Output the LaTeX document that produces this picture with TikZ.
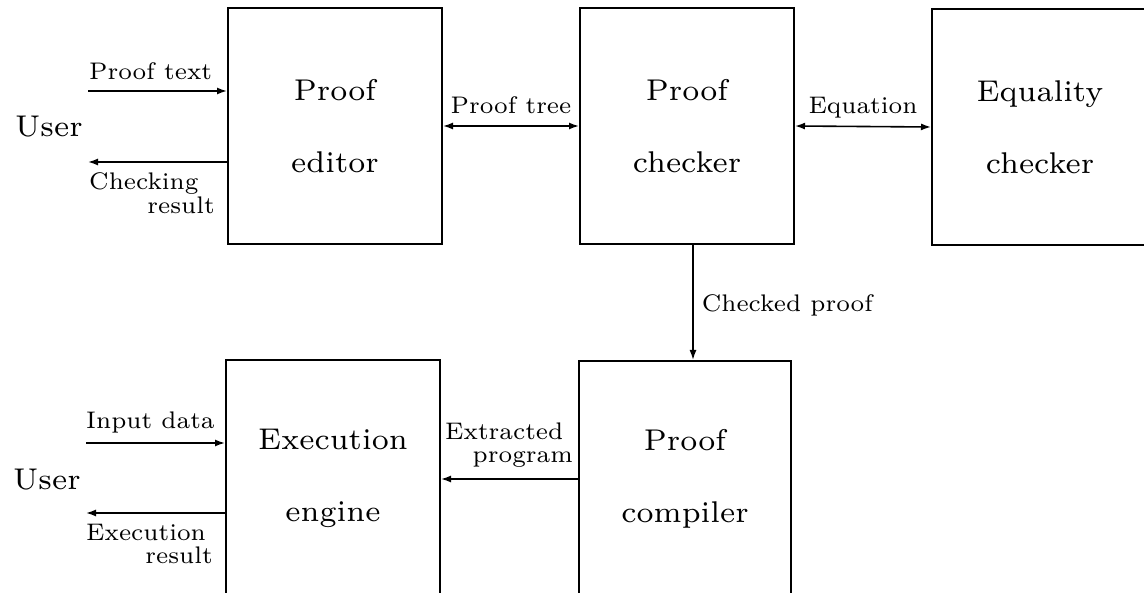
\documentclass[tikz,border=0pt]{standalone}
\usepackage{graphicx}
\usetikzlibrary{arrows.meta,calc}
\newcommand\boxtxt[1]{\scalebox{4.2857}{\fontsize{7}{7}\selectfont #1}}
\newcommand\labtxt[1]{\scalebox{3.4286}{\fontsize{7}{7}\selectfont #1}}
\tikzset{
  blk/.style={draw, line width=2pt, minimum width=214pt, minimum height=236pt,
    align=center, inner sep=0pt, font=\fontsize{30}{72}\selectfont},
  lab/.style={inner sep=0pt},
  arr/.style={line width=1.6pt, -{Latex[length=10pt,width=7pt]}},
  darr/.style={line width=1.6pt, {Latex[length=10pt,width=7pt]}-{Latex[length=10pt,width=7pt]}},
}
\begin{document}
\begin{tikzpicture}[x=1pt,y=-1pt]
\path[use as bounding box] (0,0) rectangle (1144,593);
\begin{scope}
\clip (0,0) rectangle (1144,593);
% boxes
\node[blk] (ed) at (335,126) {\boxtxt{Proof}\\\boxtxt{editor}};
\node[blk] (ch) at (687,126) {\boxtxt{Proof}\\\boxtxt{checker}};
\node[blk, minimum width=216pt] (eq) at (1040,127) {\boxtxt{Equality}\\\boxtxt{checker}};
\node[blk] (ex) at (333,478) {\boxtxt{Execution}\\\boxtxt{engine}};
\node[blk, minimum width=212pt] (co) at (685,479) {\boxtxt{Proof}\\\boxtxt{compiler}};
% user side, top
\coordinate (u1) at (88,91);
\coordinate (u2) at (88,162);
\draw[arr] (u1) -- (u1 -| ed.west);
\draw[arr] (u2 -| ed.west) -- (u2);
\node[lab, anchor=base west] (user1) at (15,137) {\boxtxt{User}};
\node[lab, anchor=base west] (lptx) at (89,80) {\labtxt{Proof text}};
\node[lab, anchor=base west] (lck) at (89,190) {\labtxt{Checking}};
\node[lab, anchor=base east] (lcr) at (215,214) {\labtxt{result}};
% top connectors
\draw[darr] (ed.east) -- node[lab, anchor=base, yshift=12pt] (lpt) {\labtxt{Proof tree}} (ch.west);
\draw[darr] (ch.east) -- node[lab, anchor=base, yshift=13pt] (leq) {\labtxt{Equation}} (eq.west);
\draw[arr] ([xshift=6pt]ch.south) -- node[lab, pos=0.58, anchor=base west, xshift=8pt] (lcp) {\labtxt{Checked proof}} ([xshift=6pt]ch.south |- co.north);
% bottom connectors
\draw[arr] (co.west) -- (co.west -| ex.east);
\node[lab, anchor=base west] (lext) at (445,440) {\labtxt{Extracted}};
\node[lab, anchor=base east] (lprog) at (573,463) {\labtxt{program}};
% user side, bottom
\coordinate (u3) at (86,443);
\coordinate (u4) at (86,513);
\draw[arr] (u3) -- (u3 -| ex.west);
\draw[arr] (u4 -| ex.west) -- (u4);
\node[lab, anchor=base west] (user2) at (13,490) {\boxtxt{User}};
\node[lab, anchor=base west] (lin) at (86,429) {\labtxt{Input data}};
\node[lab, anchor=base west] (lexe) at (86,540) {\labtxt{Execution}};
\node[lab, anchor=base east] (lres) at (213,564) {\labtxt{result}};
\end{scope}
\end{tikzpicture}
\end{document}
